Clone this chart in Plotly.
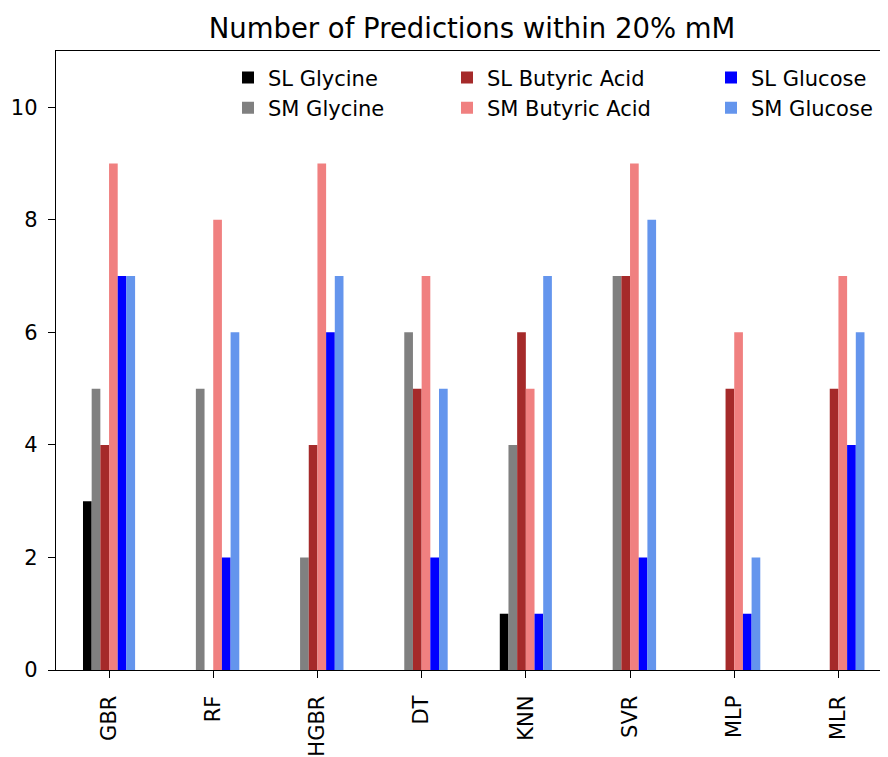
import plotly.graph_objects as go

categories = ["GBR", "RF", "HGBR", "DT", "KNN", "SVR", "MLP", "MLR"]
series_names = ["SL Glycine", "SM Glycine", "SL Butyric Acid", "SM Butyric Acid", "SL Glucose", "SM Glucose"]
sl_glycine = [3, 0, 0, 0, 1, 0, 0, 0]
sm_glycine = [5, 5, 2, 6, 4, 7, 0, 0]
sl_butyric = [4, 0, 4, 5, 6, 7, 5, 5]
sm_butyric = [9, 8, 9, 7, 5, 9, 6, 7]
sl_glucose = [7, 2, 6, 2, 1, 2, 1, 4]
sm_glucose = [7, 6, 7, 5, 7, 8, 2, 6]
colors = ["#000000", "#808080", "#A52A2A", "#F08080", "#0000FF", "#6495ED"]

values = [sl_glycine, sm_glycine, sl_butyric, sm_butyric, sl_glucose, sm_glucose]

# page has an 8px body margin; figure coordinates below are relative to the figure
W, H = 880, 749
L, R, T, B = 48, 0, 43, 84
pw = W - L - R
ph = H - T - B
unit_px = 104.2

def px2x(p):
    return (p - L) / pw

def px2y(p):
    return (H - B - p) / ph

# legend box left (fig px) and row centers (fig px)
col_px = [220, 439, 703]
row_py = [70, 100.5]

fig = go.Figure()
legend_layouts = {}
for i, (name, vals, c) in enumerate(zip(series_names, values, colors)):
    col = i // 2
    row = i % 2
    lname = "legend" if i == 0 else f"legend{i+1}"
    fig.add_trace(go.Bar(
        x=categories, y=vals, name=name, marker_color=c,
        marker_line_width=0, legend=lname,
    ))
    legend_layouts[lname] = dict(
        x=px2x(col_px[col]), y=px2y(row_py[row]), xanchor="left", yanchor="middle",
        bgcolor="rgba(0,0,0,0)", font=dict(family="DejaVu Sans", size=21, color="black"),
        itemwidth=30,
    )

fig.update_layout(
    width=W, height=H,
    margin=dict(l=L, r=R, t=T, b=B, pad=0),
    plot_bgcolor="white", paper_bgcolor="white",
    barmode="group", bargap=0.5, bargroupgap=0,
    font=dict(family="DejaVu Sans", size=21, color="black"),
    title=dict(text="Number of Predictions within 20% mM", x=0.5, xref="paper",
               xanchor="center", y=1 - 20 / H, yanchor="middle",
               font=dict(family="DejaVu Sans", size=27.5, color="black")),
    showlegend=True,
    **legend_layouts,
)
fig.update_xaxes(
    range=[-0.509, -0.509 + pw / unit_px], showgrid=False, showline=True, linecolor="black",
    linewidth=1.4, mirror=True, ticks="outside", ticklen=7, tickwidth=1.4, tickcolor="black",
    tickangle=-90, tickfont=dict(size=21), zeroline=False, ticklabelstandoff=9,
)
fig.update_yaxes(
    range=[0, 11.0], showgrid=False, showline=True, linecolor="black", linewidth=1.4,
    ticks="outside", ticklen=7, tickwidth=1.4, tickcolor="black", tickvals=[0, 2, 4, 6, 8, 10],
    tickfont=dict(size=21), zeroline=False, ticklabelstandoff=6,
)
fig.write_html("out.html")
